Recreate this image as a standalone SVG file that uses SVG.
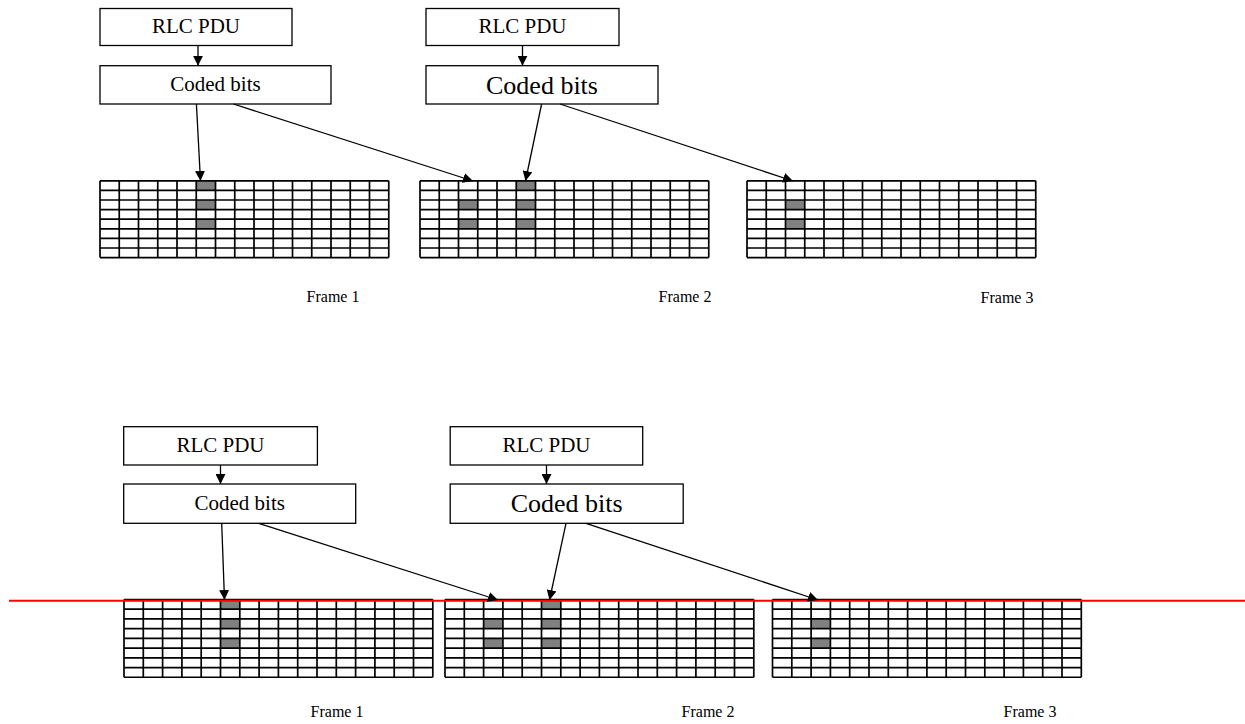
<svg xmlns="http://www.w3.org/2000/svg" xmlns:xlink="http://www.w3.org/1999/xlink" width="1245" height="724" viewBox="0 0 1245 724">
<style>
.box{fill:#fff;stroke:#000;stroke-width:1.3}
.t{font-family:"Liberation Serif","Times New Roman",serif;text-anchor:middle;fill:#000}
.conn{stroke:#000;stroke-width:1.3;fill:none;marker-end:url(#ah)}
.grid{stroke:#000;stroke-width:1.7;fill:none}
.sh{fill:#808080}
.red{stroke:#ff0000;stroke-width:2}
</style>
<defs>
<marker id="ah" markerUnits="userSpaceOnUse" markerWidth="10" markerHeight="10" refX="10" refY="5" orient="auto" viewBox="0 0 10 10">
<path d="M0,0 L10,5 L0,10 z" fill="#000"/>
</marker>
<path id="gt" class="grid" d="M0,0V76.8M19.25,0V76.8M38.5,0V76.8M57.75,0V76.8M77,0V76.8M96.25,0V76.8M115.5,0V76.8M134.75,0V76.8M154,0V76.8M173.25,0V76.8M192.5,0V76.8M211.75,0V76.8M231,0V76.8M250.25,0V76.8M269.5,0V76.8M288.75,0V76.8M0,0H288.75M0,9.6H288.75M0,19.2H288.75M0,28.8H288.75M0,38.4H288.75M0,48H288.75M0,57.6H288.75M0,67.2H288.75M0,76.8H288.75"/>
<path id="gb" class="grid" d="M0,0V77.76M19.3,0V77.76M38.6,0V77.76M57.9,0V77.76M77.2,0V77.76M96.5,0V77.76M115.8,0V77.76M135.1,0V77.76M154.4,0V77.76M173.7,0V77.76M193,0V77.76M212.3,0V77.76M231.6,0V77.76M250.9,0V77.76M270.2,0V77.76M289.5,0V77.76M308.8,0V77.76M0,0H308.8M0,9.72H308.8M0,19.44H308.8M0,29.16H308.8M0,38.88H308.8M0,48.6H308.8M0,58.32H308.8M0,68.04H308.8M0,77.76H308.8"/>
</defs>

<!-- top section -->
<g id="top-rlc1"><rect class="box" x="100" y="8.5" width="192" height="37"/><text class="t" x="196" y="33" font-size="21">RLC PDU</text></g>
<g id="top-coded1"><rect class="box" x="100" y="65.7" width="231" height="38.3"/><text class="t" x="215.5" y="91" font-size="21">Coded bits</text></g>
<g id="top-rlc2"><rect class="box" x="426" y="8.5" width="193" height="37"/><text class="t" x="522.5" y="33" font-size="21">RLC PDU</text></g>
<g id="top-coded2"><rect class="box" x="426" y="65.7" width="232" height="38.3"/><text class="t" x="542" y="94" font-size="26">Coded bits</text></g>

<g id="top-frame1">
<g transform="translate(100,180.8)"><rect class="sh" x="96.25" y="0" width="19.25" height="9.6"/><rect class="sh" x="96.25" y="19.2" width="19.25" height="9.6"/><rect class="sh" x="96.25" y="38.4" width="19.25" height="9.6"/><use xlink:href="#gt" href="#gt"/></g>
<text class="t" x="333" y="302" font-size="16">Frame 1</text>
</g>
<g id="top-frame2">
<g transform="translate(420,180.8)"><rect class="sh" x="38.5" y="19.2" width="19.25" height="9.6"/><rect class="sh" x="38.5" y="38.4" width="19.25" height="9.6"/><rect class="sh" x="96.25" y="0" width="19.25" height="9.6"/><rect class="sh" x="96.25" y="19.2" width="19.25" height="9.6"/><rect class="sh" x="96.25" y="38.4" width="19.25" height="9.6"/><use xlink:href="#gt" href="#gt"/></g>
<text class="t" x="685" y="302" font-size="16">Frame 2</text>
</g>
<g id="top-frame3">
<g transform="translate(747,180.8)"><rect class="sh" x="38.5" y="19.2" width="19.25" height="9.6"/><rect class="sh" x="38.5" y="38.4" width="19.25" height="9.6"/><use xlink:href="#gt" href="#gt"/></g>
<text class="t" x="1007" y="303" font-size="16">Frame 3</text>
</g>

<!-- bottom section -->
<g id="bot-rlc1"><rect class="box" x="123.7" y="426.7" width="193.7" height="38.3"/><text class="t" x="220.5" y="452" font-size="21">RLC PDU</text></g>
<g id="bot-coded1"><rect class="box" x="123.7" y="484" width="232" height="39.3"/><text class="t" x="239.7" y="510" font-size="21">Coded bits</text></g>
<g id="bot-rlc2"><rect class="box" x="450.2" y="426.7" width="192.5" height="38.3"/><text class="t" x="546.5" y="452" font-size="21">RLC PDU</text></g>
<g id="bot-coded2"><rect class="box" x="450.2" y="484" width="233" height="39.3"/><text class="t" x="566.7" y="512" font-size="26">Coded bits</text></g>

<g id="bot-frame1">
<g transform="translate(124,599.5)"><rect class="sh" x="96.5" y="0" width="19.3" height="9.72"/><rect class="sh" x="96.5" y="19.44" width="19.3" height="9.72"/><rect class="sh" x="96.5" y="38.88" width="19.3" height="9.72"/><use xlink:href="#gb" href="#gb"/></g>
<text class="t" x="337" y="717" font-size="16">Frame 1</text>
</g>
<g id="bot-frame2">
<g transform="translate(445,599.5)"><rect class="sh" x="38.6" y="19.44" width="19.3" height="9.72"/><rect class="sh" x="38.6" y="38.88" width="19.3" height="9.72"/><rect class="sh" x="96.5" y="0" width="19.3" height="9.72"/><rect class="sh" x="96.5" y="19.44" width="19.3" height="9.72"/><rect class="sh" x="96.5" y="38.88" width="19.3" height="9.72"/><use xlink:href="#gb" href="#gb"/></g>
<text class="t" x="708" y="717" font-size="16">Frame 2</text>
</g>
<g id="bot-frame3">
<g transform="translate(772.5,599.5)"><rect class="sh" x="38.6" y="19.44" width="19.3" height="9.72"/><rect class="sh" x="38.6" y="38.88" width="19.3" height="9.72"/><use xlink:href="#gb" href="#gb"/></g>
<text class="t" x="1030" y="717" font-size="16">Frame 3</text>
</g>

<line id="red-line" class="red" x1="9" y1="600.7" x2="1245" y2="600.7"/>

<g id="connectors">
<line class="conn" x1="198" y1="45.5" x2="198" y2="65.7"/>
<line class="conn" x1="522.5" y1="45.5" x2="522.5" y2="65.7"/>
<line class="conn" x1="196.4" y1="104" x2="200.5" y2="181"/>
<line class="conn" x1="233.5" y1="104" x2="473" y2="181"/>
<line class="conn" x1="541.6" y1="104" x2="525.5" y2="181"/>
<line class="conn" x1="560" y1="104" x2="793" y2="181"/>
<line class="conn" x1="220.5" y1="465" x2="220.5" y2="484"/>
<line class="conn" x1="546.5" y1="465" x2="546.5" y2="484"/>
<line class="conn" x1="221.7" y1="523.3" x2="224.5" y2="600"/>
<line class="conn" x1="258.8" y1="523.3" x2="498" y2="600"/>
<line class="conn" x1="566" y1="523.3" x2="549.5" y2="600"/>
<line class="conn" x1="586" y1="523.3" x2="818" y2="600"/>
</g>
</svg>
